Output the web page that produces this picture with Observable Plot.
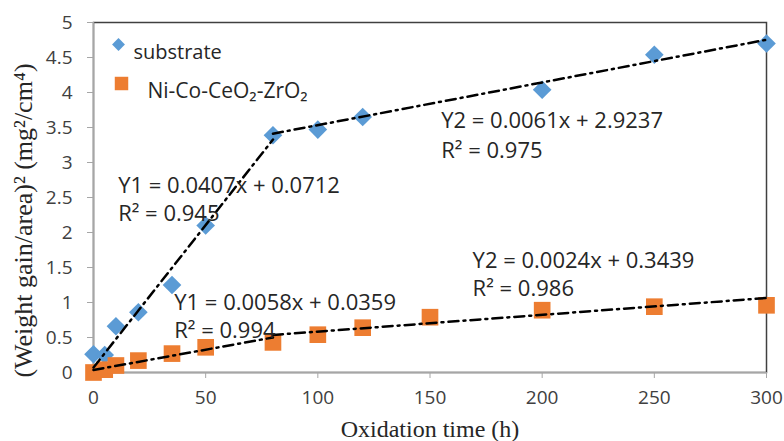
<!DOCTYPE html>
<html>
<head>
<meta charset="utf-8">
<script src="https://cdn.jsdelivr.net/npm/d3@7"></script>
<script src="https://cdn.jsdelivr.net/npm/@observablehq/plot@0.6"></script>
<style>
  html, body { margin: 0; padding: 0; background: #fff; }
</style>
</head>
<body>
<div id="chart"></div>
<script>
// ---- data ----
const xTicks = [0, 50, 100, 150, 200, 250, 300];
const yTicks = [0, 0.5, 1, 1.5, 2, 2.5, 3, 3.5, 4, 4.5, 5];

const substrateTime = [0, 5, 10, 20, 35, 50, 80, 100, 120, 200, 250, 300];
const substrateGain = [0.26, 0.25, 0.66, 0.86, 1.25, 2.10, 3.39, 3.47, 3.65, 4.04, 4.54, 4.70];

const coatingTime = [0, 5, 10, 20, 35, 50, 80, 100, 120, 150, 200, 250, 300];
const coatingGain = [0.00, 0.04, 0.10, 0.17, 0.27, 0.36, 0.43, 0.54, 0.64, 0.79, 0.89, 0.94, 0.96];

// linear fit segments shown in the chart
const fitSlope = [0.0407, 0.0061, 0.0058, 0.0024];
const fitIntercept = [0.0712, 2.9237, 0.0359, 0.3439];
const fitFrom = [0, 80, 0, 80];
const fitTo = [80, 300, 80, 300];

// equation annotations
const annText = [
  "Y1 = 0.0407x + 0.0712", "R\u00B2 = 0.945",
  "Y2 = 0.0061x + 2.9237", "R\u00B2 = 0.975",
  "Y1 = 0.0058x + 0.0359", "R\u00B2 = 0.994",
  "Y2 = 0.0024x + 0.3439", "R\u00B2 = 0.986"
];
const annX = [11, 11, 155, 155, 36, 36, 169, 169];
const annY = [2.67, 2.27, 3.60, 3.17, 1.00, 0.60, 1.60, 1.20];

const seriesNames = ["substrate", "Ni-Co-CeO\u2082-ZrO\u2082"];
const seriesColors = ["#5B9BD5", "#ED7D31"];

const xLabel = "Oxidation time (h)";
const yLabel = "(Weight gain/area)\u00B2 (mg\u00B2/cm\u2074)";

// ---- build tables ----
const substrate = substrateTime.map((t, i) => ({x: t, y: substrateGain[i]}));
const coating = coatingTime.map((t, i) => ({x: t, y: coatingGain[i]}));
const fits = [];
fitSlope.forEach((a, i) => {
  fits.push({seg: i, x: fitFrom[i], y: a * fitFrom[i] + fitIntercept[i]});
  fits.push({seg: i, x: fitTo[i], y: a * fitTo[i] + fitIntercept[i]});
});
const ann = annText.map((t, i) => ({text: t, x: annX[i], y: annY[i]}));

const chart = Plot.plot({
  width: 784,
  height: 441,
  marginLeft: 93,
  marginRight: 18,
  marginTop: 22,
  marginBottom: 69,
  x: {domain: [0, 300]},
  y: {domain: [0, 5]},
  style: {fontFamily: "'Open Sans', sans-serif", fontSize: "19px", color: "#404040", background: "#fff"},
  marks: [
    Plot.frame({stroke: "#404040", strokeWidth: 1.5}),
    Plot.ruleX([0], {stroke: "#a6a6a6", strokeWidth: 1.5}),
    Plot.ruleY([0], {stroke: "#a6a6a6", strokeWidth: 1.5}),
    Plot.axisY({ticks: yTicks, tickSize: 6, tickPadding: 15, tickFormat: d => String(d), label: null, stroke: "#a6a6a6"}),
    Plot.axisX({ticks: xTicks, tickSize: 6, tickPadding: 12, tickFormat: d => String(d), label: null, stroke: "#a6a6a6"}),
    Plot.dot(substrate, {x: "x", y: "y", symbol: "diamond2", r: 8.4, fill: seriesColors[0]}),
    Plot.dot(coating, {x: "x", y: "y", symbol: "square", r: 9.4, fill: seriesColors[1]}),
    Plot.line(fits, {x: "x", y: "y", z: "seg", stroke: "#000", strokeWidth: 2.5, strokeDasharray: "10,5,2,5"}),
    Plot.text(ann, {x: "x", y: "y", text: "text", textAnchor: "start", fontSize: 22, fill: "#262626"}),
    // legend
    Plot.dot([0], {frameAnchor: "top-left", dx: 25, dy: 22, symbol: "diamond2", r: 5.8, fill: seriesColors[0]}),
    Plot.text([seriesNames[0]], {frameAnchor: "top-left", dx: 40, dy: 22, textAnchor: "start", fontSize: 20, fill: "#262626"}),
    Plot.dot([0], {frameAnchor: "top-left", dx: 28, dy: 61, symbol: "square", r: 7.6, fill: seriesColors[1]}),
    Plot.text([seriesNames[1]], {frameAnchor: "top-left", dx: 54, dy: 61, textAnchor: "start", fontSize: 21, fill: "#262626"}),
    // axis titles
    Plot.text([xLabel], {frameAnchor: "bottom", dy: 64, fontFamily: "'Liberation Serif', serif", fontSize: 24, fill: "#262626"}),
    Plot.text([yLabel], {frameAnchor: "left", textAnchor: "middle", dx: -70, dy: 23, rotate: -90, fontFamily: "'Liberation Serif', serif", fontSize: 26, fill: "#262626"})
  ]
});
document.getElementById("chart").appendChild(chart);
</script>
</body>
</html>
